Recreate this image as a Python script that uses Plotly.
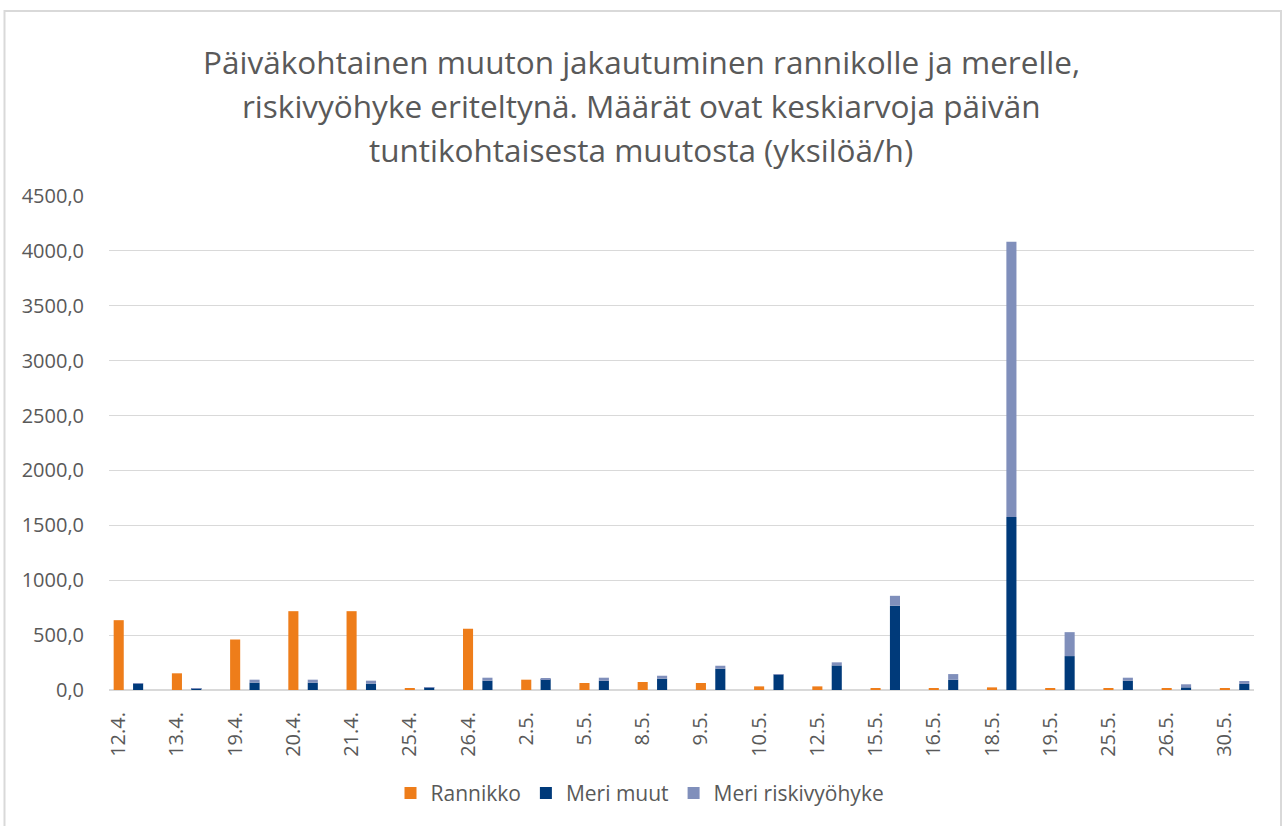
import plotly.graph_objects as go

categories = ["12.4.", "13.4.", "19.4.", "20.4.", "21.4.", "25.4.", "26.4.", "2.5.", "5.5.", "8.5.",
              "9.5.", "10.5.", "12.5.", "15.5.", "16.5.", "18.5.", "19.5.", "25.5.", "26.5.", "30.5."]
rannikko = [636, 152, 460, 718, 718, 15, 558, 94, 64, 73, 64, 33, 33, 12, 12, 24, 12, 12, 12, 12]
meri_muut = [58, 12, 67, 67, 58, 25, 85, 100, 85, 103, 194, 140, 224, 768, 94, 1576, 309, 85, 24, 55]
meri_riski = [4, 4, 27, 27, 27, 2, 27, 3, 27, 27, 27, 2, 28, 90, 51, 2508, 218, 27, 28, 27]

title_lines = ["Päiväkohtainen muuton jakautuminen rannikolle ja merelle,",
               "riskivyöhyke eriteltynä. Määrät ovat keskiarvoja päivän",
               "tuntikohtaisesta muutosta (yksilöä/h)"]

# each category occupies 3 slots: coast column, sea column, gap
idx = list(range(len(categories)))
x_coast = [3 * i for i in idx]
x_sea = [3 * i + 1 for i in idx]

ORANGE = "#EE7D1A"
DARK = "#003A7A"
LIGHT = "#808FBB"
TXT = "#595959"
GRID = "#D9D9D9"
FONT = "Open Sans"

W, H = 1282, 826
L, R, T, B = 109, 28, 196, 133
pw, ph = W - L - R, H - T - B

def px_to_paper_x(px):
    return (px - L) / pw

def px_to_paper_y(py):
    return (H - B - py) / ph

fig = go.Figure()
fig.add_trace(go.Bar(x=x_coast, y=rannikko, name="Rannikko", marker=dict(color=ORANGE, line=dict(width=0)),
                     width=0.52))
fig.add_trace(go.Bar(x=x_sea, y=meri_muut, name="Meri muut", marker=dict(color=DARK, line=dict(width=0)),
                     width=0.52))
fig.add_trace(go.Bar(x=x_sea, y=meri_riski, base=meri_muut, name="Meri riskivyöhyke",
                     marker=dict(color=LIGHT, line=dict(width=0)), width=0.52))

annotations = []
for k, line in enumerate(title_lines):
    annotations.append(dict(text=line, xref="paper", yref="paper",
                            x=px_to_paper_x(641), y=px_to_paper_y(61 + 44 * k),
                            xanchor="center", yanchor="middle", showarrow=False,
                            font=dict(family=FONT, size=31.5, color=TXT)))

fig.update_layout(
    width=W, height=H,
    margin=dict(l=L, r=R, t=T, b=B),
    barmode="overlay",
    paper_bgcolor="white", plot_bgcolor="white",
    separators=", ",
    font=dict(family=FONT, color=TXT, size=20),
    showlegend=True,
    legend=dict(orientation="h", x=px_to_paper_x(640), xanchor="center",
                y=px_to_paper_y(797), yanchor="middle",
                font=dict(family=FONT, size=21, color=TXT), traceorder="normal",
                itemwidth=30),
    xaxis=dict(range=[-0.5, 3 * len(categories) - 1 - 0.5], tickmode="array",
               tickvals=x_coast, ticktext=categories, tickangle=-90,
               showgrid=False, zeroline=False, showline=False,
               ticks="outside", ticklen=13, tickcolor="rgba(0,0,0,0)",
               tickfont=dict(family=FONT, size=20, color=TXT), fixedrange=True),
    yaxis=dict(range=[0, 4500], dtick=500, tickformat=".1f", showgrid=True,
               gridcolor=GRID, gridwidth=1.3, zeroline=True, zerolinecolor=GRID,
               zerolinewidth=2, showline=False, ticks="outside", ticklen=20,
               tickcolor="rgba(0,0,0,0)", fixedrange=True,
               tickfont=dict(family=FONT, size=20, color=TXT)),
    annotations=annotations,
    shapes=[dict(type="rect", xref="paper", yref="paper",
                 x0=px_to_paper_x(4.5), x1=px_to_paper_x(1281), y0=px_to_paper_y(835), y1=px_to_paper_y(10),
                 line=dict(color=GRID, width=2), fillcolor="rgba(0,0,0,0)", layer="below")],
)

fig.write_html("out.html", config={"displayModeBar": False},
               post_script="document.body.style.margin='0px';document.body.style.overflow='hidden';")
